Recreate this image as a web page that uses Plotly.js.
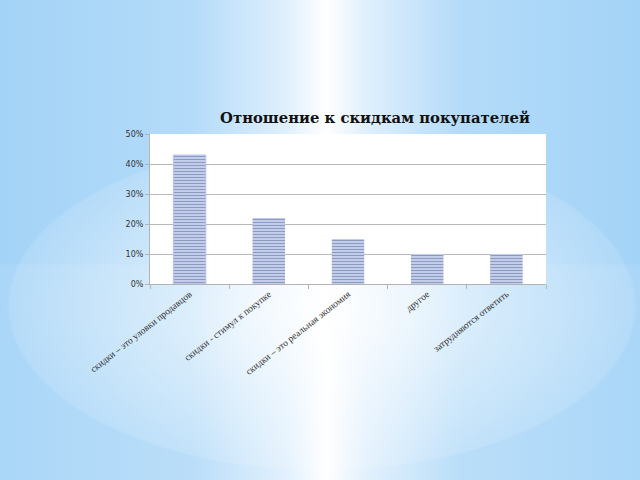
<!DOCTYPE html>
<html>
<head>
<meta charset="utf-8">
<script src="https://cdn.plot.ly/plotly-3.0.1.min.js"></script>
<style>
html,body{margin:0;padding:0;width:640px;height:480px;overflow:hidden;}
body{
  background:
    radial-gradient(ellipse 315px 165px at 322px 306px, rgba(255,255,255,0.85) 0%, rgba(255,255,255,0.4) 55%, rgba(255,255,255,0.12) 99%, rgba(255,255,255,0) 100%),
    linear-gradient(to bottom, rgba(255,255,255,0) 0px, rgba(255,255,255,0) 264px, rgba(255,255,255,0.08) 265px, rgba(255,255,255,0.08) 480px),
    linear-gradient(to right, #a3d3f7 0%, #b4dbf9 30%, #e0f0fd 45%, #ffffff 51%, #e0f0fd 57%, #b4dbf9 72%, #a3d3f7 100%);
}
#chart{width:640px;height:480px;}
</style>
</head>
<body>
<div id="chart"></div>
<script>
var categories = [
  "скидки – это уловки продавцов",
  "скидки - стимул к покупке",
  "скидки – это реальная экономия",
  "другое",
  "затрудняются ответить"
];
var shares = [0.43, 0.22, 0.15, 0.10, 0.10];
var chartTitle = "Отношение к скидкам покупателей";

var trace = {
  type: "bar",
  x: categories,
  y: shares,
  width: 0.41,
  marker: {
    color: "#c9d2ee",
    pattern: {shape: "-", fgcolor: "#8a9cc2", bgcolor: "#c9d2ee", size: 3, solidity: 0.4},
    line: {color: ["#b9c2f2", "rgba(0,0,0,0)", "rgba(0,0,0,0)", "rgba(0,0,0,0)", "rgba(0,0,0,0)"], width: 1}
  },
  hoverinfo: "none"
};

var layout = {
  width: 640,
  height: 480,
  paper_bgcolor: "rgba(0,0,0,0)",
  plot_bgcolor: "#ffffff",
  margin: {l: 150, r: 94, t: 134, b: 196},
  showlegend: false,
  title: {
    text: chartTitle,
    font: {family: "DejaVu Serif", size: 14.8, color: "#111111", weight: "bold"},
    xref: "container", yref: "container",
    x: 375/640, xanchor: "center",
    y: 1 - 118/480, yanchor: "middle"
  },
  xaxis: {
    type: "category",
    tickangle: -38,
    tickfont: {family: "Liberation Serif", size: 9.5, color: "#333333"},
    showline: true, linecolor: "#b3b3b3", linewidth: 1,
    ticks: "outside", tickson: "boundaries", ticklen: 4, tickcolor: "#b3b3b3",
    showgrid: false,
    fixedrange: true
  },
  yaxis: {
    range: [0, 0.5],
    dtick: 0.1,
    tickformat: ".0%",
    tickfont: {family: "DejaVu Sans", size: 8, color: "#333333"},
    showline: true, linecolor: "#b3b3b3", linewidth: 1,
    ticks: "outside", ticklen: 4, tickcolor: "#b3b3b3",
    showgrid: true, gridcolor: "#b8b8b8", gridwidth: 1,
    zeroline: false,
    fixedrange: true
  }
};

Plotly.newPlot("chart", [trace], layout, {displayModeBar: false, staticPlot: true});
</script>
</body>
</html>
